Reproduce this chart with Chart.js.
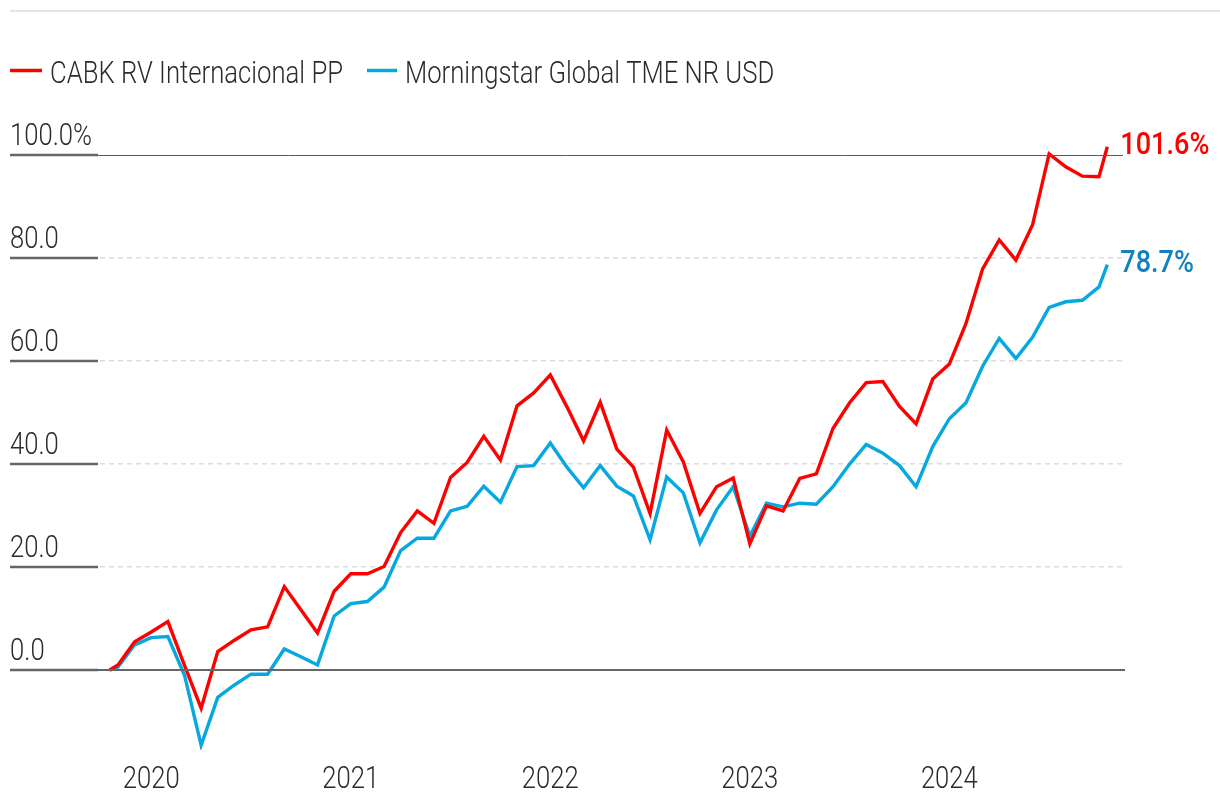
<!DOCTYPE html>
<html>
<head>
<meta charset="utf-8">
<script src="https://cdn.jsdelivr.net/npm/chart.js@4/dist/chart.umd.min.js"></script>
<style>
  html, body { margin: 0; padding: 0; background: #ffffff; }
  #wrap { width: 1220px; height: 808px; position: relative; }
  canvas { display: block; }
</style>
</head>
<body>
<div id="wrap"><canvas id="chart" width="1220" height="808"></canvas></div>
<script>
// ---- Data (cumulative return, %) ----
const seriesNames = ['CABK RV Internacional PP', 'Morningstar Global TME NR USD'];

// first point = start (mid Nov 2019), then month-ends Nov 2019 .. Oct 2024, then last partial month
const fundValues = [
  0,
  1.0, 5.5, 7.4, 9.4, 0.9,
  -7.4, 3.6, 5.8, 7.8, 8.4,
  16.2, 11.7, 7.2, 15.3, 18.7,
  18.7, 20.1, 26.7, 30.9, 28.5,
  37.4, 40.3, 45.4, 40.8, 51.3,
  53.8, 57.3, 51.1, 44.5, 52.0,
  42.9, 39.4, 30.4, 46.6, 40.4,
  30.4, 35.6, 37.3, 24.5, 31.9,
  30.9, 37.2, 38.1, 46.9, 51.9,
  55.8, 56.0, 51.2, 47.8, 56.5,
  59.4, 67.3, 77.9, 83.5, 79.6,
  86.4, 100.2, 97.7, 95.9, 95.8,
  101.6
];

const indexValues = [
  0,
  0.6, 4.9, 6.3, 6.5, -1.0,
  -14.6, -5.3, -2.9, -0.8, -0.8,
  4.1, 2.6, 1.0, 10.5, 12.9,
  13.3, 16.1, 23.2, 25.6, 25.6,
  30.9, 31.8, 35.7, 32.6, 39.5,
  39.7, 44.1, 39.4, 35.4, 39.7,
  35.7, 33.8, 25.3, 37.5, 34.4,
  24.7, 31.1, 35.6, 26.0, 32.4,
  31.7, 32.4, 32.2, 35.6, 40.0,
  43.8, 42.1, 39.7, 35.6, 43.4,
  48.8, 51.9, 59.0, 64.4, 60.5,
  64.6, 70.4, 71.5, 71.8, 74.4,
  78.7
];

// x position in months (0 = end of Nov 2019); half-month steps at both ends
const monthPositions = [-0.5];
for (let i = 0; i < 60; i++) monthPositions.push(i);
monthPositions.push(59.5);

const yearTickPositions = [2, 14, 26, 38, 50];
const yearTickLabels = ['2020', '2021', '2022', '2023', '2024'];

const yTickValues = [0, 20, 40, 60, 80, 100];
const yTickLabels = ['0.0', '20.0', '40.0', '60.0', '80.0', '100.0%'];

const endLabels = ['101.6%', '78.7%'];

// ---- Styles ----
const FONT = "Roboto, 'Liberation Sans', Arial, sans-serif";
const REG_FONT = "300 32px " + FONT;
const BOLD_FONT = "500 31px " + FONT;
const TEXT = '#2b2b2b';
const RED = '#ff0000';
const BLUE = '#06a8df';
const BLUE_LABEL = '#1380c0';

const toPoints = vals => vals.map((v, i) => ({ x: monthPositions[i], y: v }));

// condensed text: the reference uses a condensed face, so text is squeezed horizontally
function condensed(ctx, font, sample, targetWidth) {
  ctx.save();
  ctx.font = font;
  const w = ctx.measureText(sample).width;
  ctx.restore();
  return targetWidth / w;
}
function drawText(ctx, text, x, y, font, color, sx, align) {
  ctx.save();
  ctx.font = font;
  ctx.fillStyle = color;
  ctx.textAlign = 'left';
  ctx.textBaseline = 'alphabetic';
  const w = ctx.measureText(text).width * sx;
  const x0 = align === 'center' ? x - w / 2 : x;
  ctx.translate(x0, y);
  ctx.scale(sx, 1);
  ctx.fillText(text, 0, 0);
  ctx.restore();
}

const overlay = {
  id: 'overlay',
  beforeDraw(chart) {
    const ctx = chart.ctx;
    ctx.save();
    ctx.fillStyle = '#ffffff';
    ctx.fillRect(0, 0, chart.width, chart.height);
    ctx.strokeStyle = '#e4e4e4';
    ctx.lineWidth = 2;
    ctx.beginPath();
    ctx.moveTo(10, 11);
    ctx.lineTo(chart.width, 11);
    ctx.stroke();
    ctx.restore();
  },
  afterDatasetsDraw(chart) {
    const { ctx, chartArea } = chart;
    const y = chart.scales.y;
    const x = chart.scales.x;
    const sxReg = condensed(ctx, REG_FONT, seriesNames[0], 293);
    const sxBold = condensed(ctx, BOLD_FONT, endLabels[0], 89);
    ctx.save();
    const hline = (x0, x1, py, color, w) => {
      ctx.strokeStyle = color;
      ctx.lineWidth = w;
      ctx.beginPath();
      ctx.moveTo(x0, py);
      ctx.lineTo(x1, py);
      ctx.stroke();
    };
    // 100 line (thin, solid)
    hline(10, chartArea.right, Math.round(y.getPixelForValue(100)) + 0.5, '#5a5a5a', 1);
    // zero line (solid)
    hline(10, chartArea.right + 2, Math.round(y.getPixelForValue(0)), '#666666', 2);
    // short dark segments under the tick labels + tick labels
    yTickValues.forEach((v, i) => {
      const py = Math.round(y.getPixelForValue(v));
      hline(10, 98, py, '#666666', 2.5);
      drawText(ctx, yTickLabels[i], 10, py - 10, REG_FONT, TEXT, sxReg, 'left');
    });
    // year labels
    yearTickPositions.forEach((p, i) => {
      drawText(ctx, yearTickLabels[i], x.getPixelForValue(p), 788, REG_FONT, TEXT, sxReg, 'center');
    });

    // end value labels
    const labelColors = [RED, BLUE_LABEL];
    chart.data.datasets.forEach((ds, i) => {
      const meta = chart.getDatasetMeta(i);
      const last = meta.data[meta.data.length - 1];
      drawText(ctx, endLabels[i], last.x + 13, last.y + 7.5, BOLD_FONT, labelColors[i], sxBold, 'left');
    });

    // legend
    const legendY = 70.5;
    const items = [
      { x0: 10, x1: 42, tx: 50, color: RED, text: seriesNames[0] },
      { x0: 367, x1: 397, tx: 405, color: BLUE, text: seriesNames[1] }
    ];
    items.forEach(it => {
      hline(it.x0, it.x1, legendY, it.color, 3.5);
      drawText(ctx, it.text, it.tx, 82.5, REG_FONT, TEXT, sxReg, 'left');
    });
    ctx.restore();
  }
};

new Chart(document.getElementById('chart'), {
  type: 'line',
  data: {
    datasets: [
      {
        label: seriesNames[0],
        data: toPoints(fundValues),
        borderColor: RED,
        backgroundColor: RED,
        borderWidth: 3.4,
        pointRadius: 0,
        tension: 0,
        fill: false
      },
      {
        label: seriesNames[1],
        data: toPoints(indexValues),
        borderColor: BLUE,
        backgroundColor: BLUE,
        borderWidth: 3.4,
        pointRadius: 0,
        tension: 0,
        fill: false
      }
    ]
  },
  options: {
    responsive: false,
    animation: false,
    devicePixelRatio: 1,
    layout: { padding: { top: 103.5, left: 10, right: 97, bottom: 58 } },
    plugins: {
      legend: { display: false },
      tooltip: { enabled: false }
    },
    scales: {
      x: {
        type: 'linear',
        display: false,
        min: -6.4954,
        max: 60.443
      },
      y: {
        type: 'linear',
        min: -15.52,
        max: 110,
        afterBuildTicks: s => { s.ticks = yTickValues.map(v => ({ value: v })); },
        afterFit: s => { s.width = 0; },
        grid: {
          drawTicks: false,
          lineWidth: 1.5,
          color: c => (c.tick && (c.tick.value === 0 || c.tick.value === 100)) ? 'rgba(0,0,0,0)' : '#dcdcdc'
        },
        border: { display: false, dash: [5, 4] },
        ticks: { display: false }
      }
    }
  },
  plugins: [overlay]
});
</script>
</body>
</html>
